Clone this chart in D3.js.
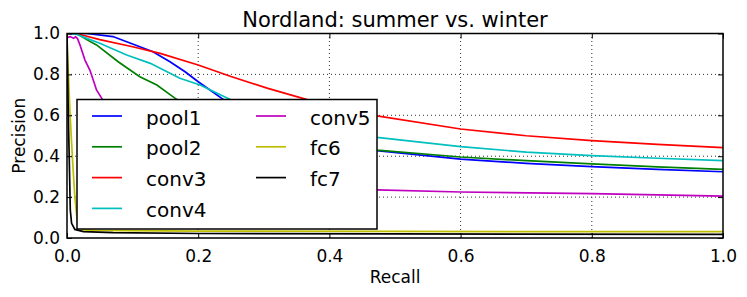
<!DOCTYPE html>
<html>
<head>
<meta charset="utf-8">
<script src="https://cdn.jsdelivr.net/npm/d3@7"></script>
<style>
  body { margin: 0; background: #fff; }
  svg { font-family: "DejaVu Sans", sans-serif; }
</style>
</head>
<body>
<script>
// recall / precision pairs
const pool1 = [[0,1],[0.03,1],[0.07,0.985],[0.091,0.96],[0.131,0.911],[0.157,0.862],[0.18,0.813],[0.2,0.764],[0.218,0.724],[0.238,0.678],[0.3,0.56],[0.4,0.47],[0.4725,0.427],[0.6,0.386],[0.7,0.365],[0.8,0.349],[0.9,0.336],[1,0.324]]
const pool2 = [[0,1],[0.015,1],[0.03,0.97],[0.045,0.944],[0.078,0.862],[0.111,0.789],[0.137,0.748],[0.167,0.678],[0.25,0.56],[0.35,0.48],[0.4725,0.43],[0.6,0.396],[0.7,0.378],[0.8,0.362],[0.9,0.348],[1,0.336]]
const conv3 = [[0,1],[0.02,0.995],[0.05,0.97],[0.1,0.935],[0.142,0.903],[0.2,0.846],[0.25,0.79],[0.305,0.733],[0.366,0.677],[0.4725,0.597],[0.6,0.533],[0.7,0.5],[0.8,0.476],[0.9,0.458],[1,0.442]]
const conv4 = [[0,1],[0.015,0.995],[0.03,0.976],[0.05,0.952],[0.091,0.895],[0.127,0.854],[0.172,0.781],[0.203,0.748],[0.221,0.72],[0.248,0.678],[0.3,0.6],[0.4,0.53],[0.4725,0.492],[0.6,0.447],[0.7,0.42],[0.8,0.403],[0.9,0.39],[1,0.378]]
const conv5 = [[0,0.98],[0.005,0.985],[0.01,0.977],[0.013,0.984],[0.016,0.975],[0.0198,0.944],[0.0274,0.87],[0.035,0.82],[0.04,0.773],[0.045,0.724],[0.053,0.683],[0.08,0.55],[0.12,0.42],[0.2,0.32],[0.3,0.27],[0.4,0.245],[0.4725,0.235],[0.6,0.225],[0.8,0.217],[1,0.205]]
const fc6 = [[0,1],[0.0005,0.93],[0.0046,0.61],[0.0087,0.367],[0.012,0.2],[0.015,0.103],[0.017,0.054],[0.025,0.04],[0.04,0.037],[0.2,0.034],[0.5,0.032],[1,0.031]]
const fc7 = [[0,1],[0.002,0.6],[0.004,0.3],[0.005,0.137],[0.007,0.072],[0.012,0.042],[0.025,0.031],[0.07,0.026],[0.2,0.022],[0.5,0.02],[1,0.018]]

const names = ['pool1', 'pool2', 'conv3', 'conv4', 'conv5', 'fc6', 'fc7']
const colors = ['#0000ff', '#008000', '#ff0000', '#00bfbf', '#bf00bf', '#bfbf00', '#000000']
const series = [pool1, pool2, conv3, conv4, conv5, fc6, fc7]
const ticks = [0, 0.2, 0.4, 0.6, 0.8, 1.0]

const width = 747
const height = 297
const margin = { top: 33.5, right: 24, bottom: 59, left: 67 }

const svg = d3.select('body')
	.append('svg')
	.attr('width', width)
	.attr('height', height)

const x = d3.scaleLinear()
	.domain([0, 1])
	.range([margin.left, width - margin.right])

const y = d3.scaleLinear()
	.domain([0, 1])
	.range([height - margin.bottom, margin.top])

// clip
svg.append('clipPath')
	.attr('id', 'plot')
	.append('rect')
	.attr('x', x(0))
	.attr('y', y(1))
	.attr('width', x(1) - x(0))
	.attr('height', y(0) - y(1))

// grid
const grid = svg.append('g')
	.attr('stroke', '#000')
	.attr('stroke-width', 1)
	.attr('stroke-dasharray', '1,3')
	.attr('opacity', 0.8)

grid.selectAll('.gx')
	.data(ticks.slice(1, -1))
	.enter()
	.append('line')
	.attr('x1', d => x(d)).attr('x2', d => x(d))
	.attr('y1', y(0)).attr('y2', y(1))

grid.selectAll('.gy')
	.data(ticks.slice(1, -1))
	.enter()
	.append('line')
	.attr('x1', x(0)).attr('x2', x(1))
	.attr('y1', d => y(d)).attr('y2', d => y(d))

// curves
const line = d3.line()
	.x(d => x(d[0]))
	.y(d => y(d[1]))

svg.append('g')
	.attr('clip-path', 'url(#plot)')
	.selectAll('path')
	.data(series)
	.enter()
	.append('path')
	.attr('d', line)
	.attr('fill', 'none')
	.attr('stroke', (d, i) => colors[i])
	.attr('stroke-width', 1.7)

// axes
const fmt = d3.format('.1f')
const xAxis = d3.axisBottom(x).tickValues(ticks).tickFormat(fmt).tickSizeInner(-5).tickSizeOuter(0).tickPadding(12)
const yAxis = d3.axisLeft(y).tickValues(ticks).tickFormat(fmt).tickSizeInner(-5).tickSizeOuter(0).tickPadding(7)
const xTop = d3.axisTop(x).tickValues(ticks).tickFormat('').tickSizeInner(-5).tickSizeOuter(0)
const yRight = d3.axisRight(y).tickValues(ticks).tickFormat('').tickSizeInner(-5).tickSizeOuter(0)

const axes = [
	[xAxis, `translate(0,${y(0)})`],
	[yAxis, `translate(${x(0)},0)`],
	[xTop, `translate(0,${y(1)})`],
	[yRight, `translate(${x(1)},0)`]
]
axes.forEach(([ax, t]) => {
	const g = svg.append('g').attr('transform', t).call(ax)
	g.select('.domain').remove()
	g.selectAll('line').attr('stroke', '#000').attr('stroke-width', 1)
	g.selectAll('text').attr('fill', '#000').style('font-size', '17px').style('font-family', '"DejaVu Sans"')
})

svg.append('rect')
	.attr('x', x(0))
	.attr('y', y(1))
	.attr('width', x(1) - x(0))
	.attr('height', y(0) - y(1))
	.attr('fill', 'none')
	.attr('stroke', '#000')
	.attr('stroke-width', 1.5)

// labels
svg.append('text')
	.attr('x', (x(0) + x(1)) / 2)
	.attr('y', 27)
	.attr('text-anchor', 'middle')
	.style('font-size', '21px')
	.text('Nordland: summer vs. winter')

svg.append('text')
	.attr('x', (x(0) + x(1)) / 2)
	.attr('y', 283)
	.attr('text-anchor', 'middle')
	.style('font-size', '17px')
	.text('Recall')

svg.append('text')
	.attr('transform', `translate(25,${(y(0) + y(1)) / 2}) rotate(-90)`)
	.attr('text-anchor', 'middle')
	.style('font-size', '17px')
	.text('Precision')

// legend
const legend = svg.append('g')
	.attr('transform', 'translate(77,99.5)')

legend.append('rect')
	.attr('width', 300)
	.attr('height', 129.5)
	.attr('fill', '#fff')
	.attr('stroke', '#000')
	.attr('stroke-width', 1.5)

const item = legend.selectAll('.item')
	.data(names)
	.enter()
	.append('g')
	.attr('transform', (d, i) => `translate(${i < 4 ? 15 : 179},${16.5 + (i % 4) * 30.8})`)

item.append('line')
	.attr('x1', 0).attr('x2', 30)
	.attr('stroke', (d, i) => colors[i])
	.attr('stroke-width', 1.7)

item.append('text')
	.attr('x', 54)
	.attr('y', 8.5)
	.style('font-size', '20px')
	.text(d => d)
</script>
</body>
</html>
